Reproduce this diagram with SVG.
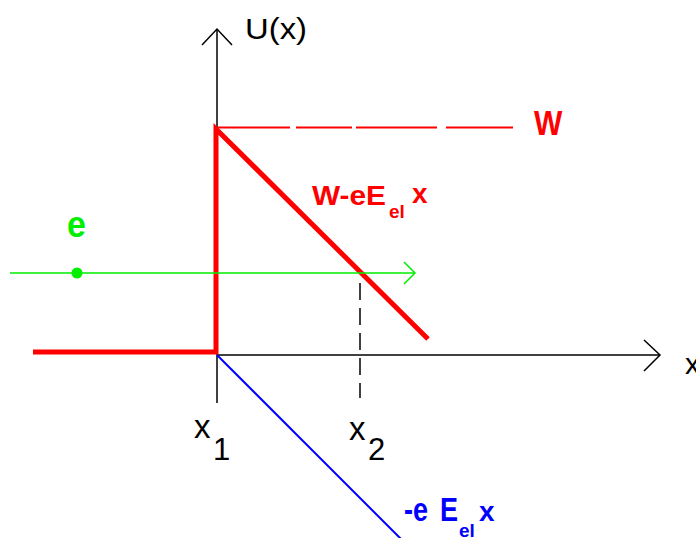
<svg xmlns="http://www.w3.org/2000/svg" width="696" height="538" viewBox="0 0 696 538">
<style>
.ax{stroke:#000;stroke-width:1.5;fill:none}
.lbl{font-family:"Liberation Sans",Arial,sans-serif}
.b{font-weight:bold}
.red{fill:#ff0000}
.grn{fill:#00ee00}
.blu{fill:#0000ff}
.blk{fill:#000}
</style>
<rect width="696" height="538" fill="#fff"/>
<g id="axes">
<line class="ax" x1="217" y1="29" x2="217" y2="403"/>
<polyline class="ax" points="202,45 217,29 232,45"/>
<line class="ax" x1="217" y1="355" x2="660" y2="355"/>
<polyline class="ax" points="644,340 660,355 644,371"/>
<line x1="360" y1="283" x2="360" y2="398" stroke="#000" stroke-width="1.5" stroke-dasharray="17 8"/>
</g>
<g id="blue-line">
<line x1="217" y1="355" x2="403" y2="541" stroke="#0000ff" stroke-width="2"/>
</g>
<g id="w-level">
<g stroke="#ff0000" stroke-width="2">
<line x1="217" y1="127.5" x2="290" y2="127.5"/>
<line x1="296" y1="127.5" x2="352" y2="127.5"/>
<line x1="356" y1="127.5" x2="437" y2="127.5"/>
<line x1="446" y1="127.5" x2="513" y2="127.5"/>
</g>
</g>
<g id="potential">
<polyline points="33,352 216,352 216,129 428,339" fill="none" stroke="#ff0000" stroke-width="5" stroke-linejoin="miter"/>
</g>
<g id="electron">
<line x1="10" y1="273" x2="415" y2="273" stroke="#00ee00" stroke-width="1.5"/>
<polyline points="404,262 415,273 404,284" fill="none" stroke="#00ee00" stroke-width="1.5"/>
<circle cx="77" cy="273" r="5.5" fill="#00ee00"/>
</g>
<g id="labels">
<text class="lbl blk" x="245" y="39" font-size="30" textLength="62" lengthAdjust="spacingAndGlyphs">U(x)</text>
<text class="lbl blk" x="685" y="374" font-size="30">x</text>
<text class="lbl b red" transform="translate(534,135) scale(1,1.16)" font-size="30">W</text>
<text class="lbl b red" x="312" y="205" font-size="27" textLength="74" lengthAdjust="spacingAndGlyphs">W-eE</text>
<text class="lbl b red" x="389" y="218" font-size="19">el</text>
<text class="lbl b red" x="412" y="203" font-size="28">x</text>
<text class="lbl b grn" transform="translate(67,237) scale(1,1.1)" font-size="34">e</text>
<text class="lbl blk" x="194" y="438" font-size="33">x</text>
<text class="lbl blk" x="213" y="460" font-size="31">1</text>
<text class="lbl blk" x="349" y="440" font-size="33">x</text>
<text class="lbl blk" x="368" y="460" font-size="31">2</text>
<text class="lbl b blu" transform="translate(404,521) scale(1,1.25)" font-size="27">-e</text>
<text class="lbl b blu" transform="translate(440,521) scale(1,1.25)" font-size="27">E</text>
<text class="lbl b blu" x="459" y="537" font-size="19">el</text>
<text class="lbl b blu" x="479" y="521" font-size="28">x</text>
</g>
</svg>
